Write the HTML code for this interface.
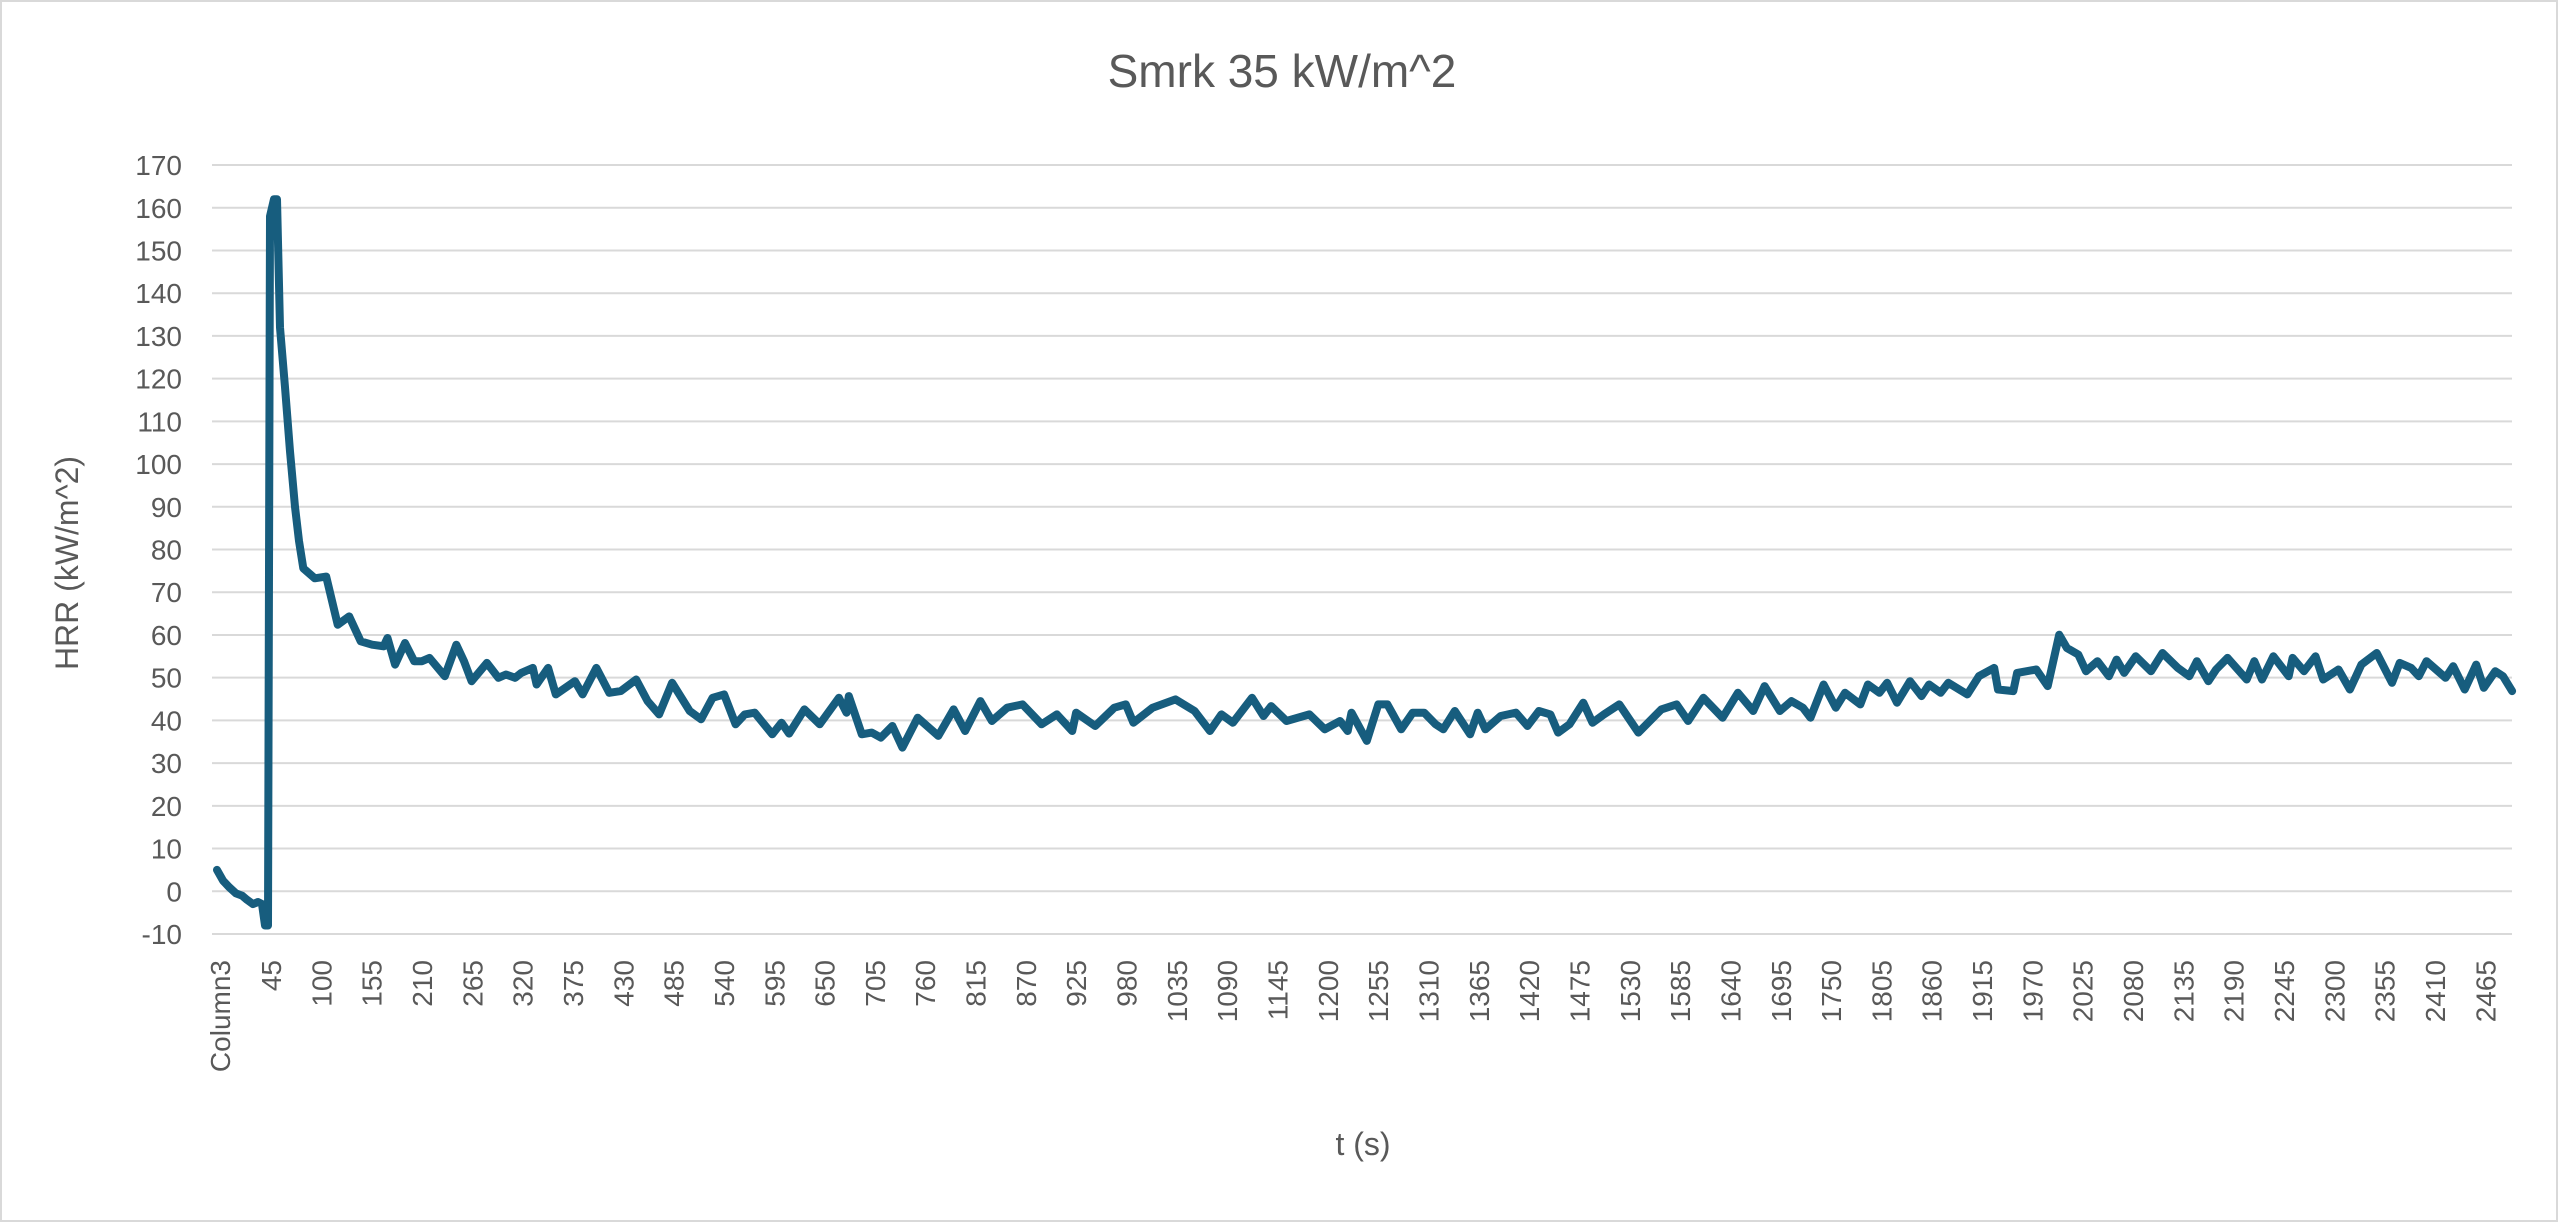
<!DOCTYPE html>
<html><head><meta charset="utf-8"><style>
html,body{margin:0;padding:0;background:#fff;}
svg{display:block;font-family:"Liberation Sans",sans-serif;}
</style></head><body>
<svg id="s" width="2560" height="1223" xmlns="http://www.w3.org/2000/svg">
<rect x="1" y="1" width="2556" height="1220" fill="#fff" stroke="#d9d9d9" stroke-width="2"/>
<text x="1282" y="87" font-size="46" fill="#595959" text-anchor="middle">Smrk 35 kW/m^2</text>
<text transform="translate(78,563) rotate(-90)" font-size="32" fill="#595959" text-anchor="middle">HRR (kW/m^2)</text>
<text x="1363" y="1155" font-size="32" fill="#595959" text-anchor="middle">t (s)</text>
<g id="grid"></g><g id="yl"></g><g id="xl"></g>
<polyline id="ln" fill="none" stroke="#175d7e" stroke-width="8" stroke-linejoin="round" stroke-linecap="round"/>
</svg>
<script>
var NS="http://www.w3.org/2000/svg";
function el(t,a,p,txt){var e=document.createElementNS(NS,t);for(var k in a)e.setAttribute(k,a[k]);if(txt!=null)e.textContent=txt;document.getElementById(p).appendChild(e);return e;}
function Y(v){return 934-(v+10)*4.272;}
for(var g=-10;g<=170;g+=10){var y=Y(g);el('line',{x1:212,x2:2512,y1:y,y2:y,stroke:'#d9d9d9','stroke-width':2},'grid');
el('text',{x:182,y:y+10,'font-size':28,fill:'#595959','text-anchor':'end'},'yl',String(g));}
function X(t){return 271+(t-45)/5*4.575;}
el('text',{transform:'translate('+(220+10)+',960) rotate(-90)','font-size':28,fill:'#595959','text-anchor':'end'},'xl','Column3');
for(var t=45;t<=2465;t+=55){el('text',{transform:'translate('+(X(t)+10)+',960) rotate(-90)','font-size':28,fill:'#595959','text-anchor':'end'},'xl',String(t));}
var pts=[];
var init=[[217,5],[223,2.5],[229,1],[236,-0.5],[242,-1],[247,-2],[253,-3],[258,-2.5],[262,-3],[265,-8],[268,-8],[270,158],[274,162],[277,162],[280,132],[285,118],[290,103],[295,90],[299,82]];
init.forEach(function(p){pts.push(p[0]+','+Y(p[1]).toFixed(1));});
function add(off,arr){for(var i=0;i<arr.length;i+=2){var x=off+arr[i]/1.307;var v=(993-arr[i+1])/12.87;pts.push(x.toFixed(1)+','+Y(v).toFixed(1));}}
add(200,[135,20,150,50,165,45,180,190,195,165,210,240,225,250,240,255,245,230,255,310,268,245,280,300,290,300,300,290,320,345,335,250,345,300,355,360,375,305,390,350,400,340,412,350,420,335,435,320,440,370,455,320,465,400,490,360,500,400,518,320,535,395,550,390,570,355,585,420,600,460,617,365,640,450,655,475,670,410,685,400,700,490,712,460,725,455,748,520,760,485,770,518,790,445,810,490,835,410,845,455,848,405,865,520,878,515,890,530,905,495,918,560,938,470,965,525,985,445,1000,510,1020,420,1035,480,1055,440,1075,430,1100,490,1120,460,1140,510,1145,455,1170,495,1195,440,1210,430,1220,485,1245,440,1275,415,1300,450,1320,510,1335,460,1350,485,1375,410,1390,465,1400,435,1420,480,1450,460,1470,505,1490,480,1500,510]);
add(1340,[15,455,35,540,50,430,62,430,80,505,95,455,110,455,125,490,135,505,150,450,170,520,180,455,190,505,210,465,230,455,245,495,260,450,275,460,285,515,300,490,318,425,330,485,345,460,365,430,390,515,420,445,440,430,455,480,475,410,500,470,520,395,540,450,555,375,575,450,590,420,605,440,615,470,632,370,648,440,660,395,680,430,690,370,705,395,715,365,728,425,745,360,760,405,770,370,785,395,795,365,820,400,835,345,855,320,860,385,880,390,885,335,910,325,925,375,940,220,950,260,965,280,975,330,990,300,1005,345,1015,295,1025,335,1040,285,1060,330,1075,275,1095,320,1110,345,1120,300,1135,360,1145,325,1160,290,1185,355,1195,300,1205,355,1220,285,1240,345,1245,290,1260,330,1275,285,1285,355,1305,325,1320,385,1335,310,1355,275,1375,365,1385,305,1400,320,1410,345,1420,300,1445,350,1455,315,1470,385,1485,310,1495,380,1510,330,1520,345,1532,390]);
document.getElementById('ln').setAttribute('points',pts.join(' '));
</script>
</body></html>
